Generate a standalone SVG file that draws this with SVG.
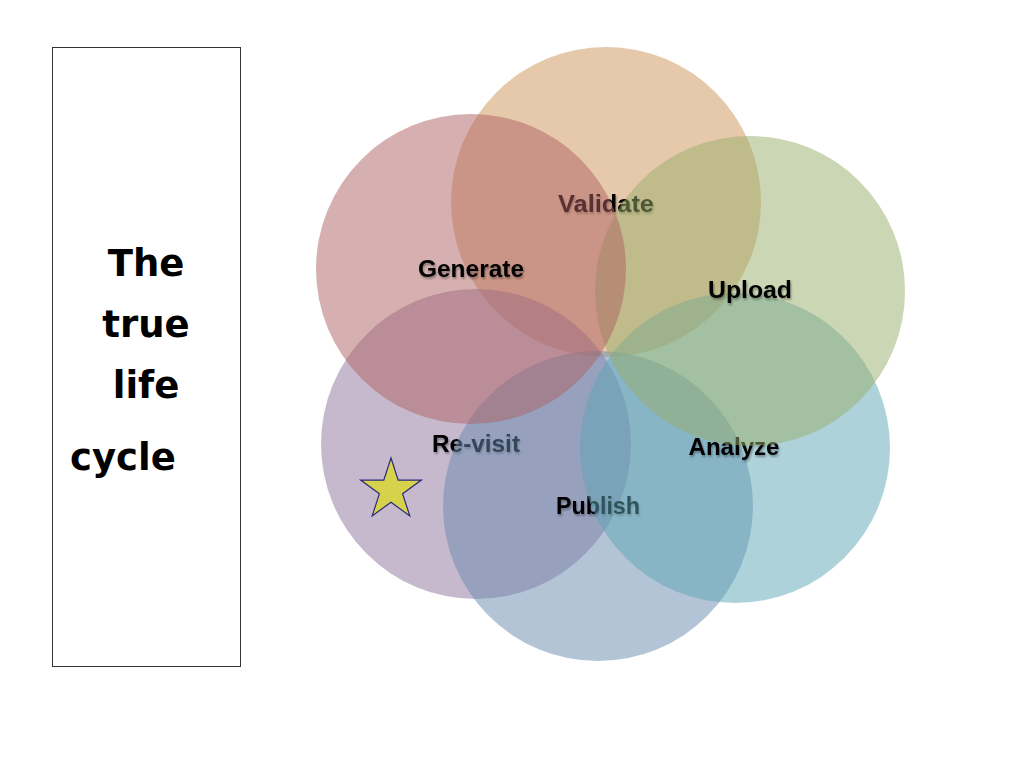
<svg xmlns="http://www.w3.org/2000/svg" width="1024" height="768" viewBox="0 0 1024 768">
<defs>
<style>
.c{stroke:none;opacity:0.5}
.lbl{font-family:"Liberation Sans",Arial,sans-serif;font-weight:bold;font-size:23.5px;fill:#000;text-anchor:middle}
.ttl{font-family:"DejaVu Sans",Verdana,sans-serif;font-weight:bold;font-size:37px;fill:#000}
</style>
<filter id="sh" x="-10%" y="-10%" width="130%" height="130%">
<feGaussianBlur in="SourceAlpha" stdDeviation="1"/>
<feOffset dx="1" dy="1.5" result="b"/>
<feComponentTransfer><feFuncA type="linear" slope="0.35"/></feComponentTransfer>
<feMerge><feMergeNode/><feMergeNode in="SourceGraphic"/></feMerge>
</filter>
</defs>
<rect width="1024" height="768" fill="#fff"/>
<g id="title">
<rect x="52.5" y="47.5" width="188" height="619" fill="#fff" stroke="#333" stroke-width="1"/>
<text class="ttl" x="146" y="276" text-anchor="middle">The</text>
<text class="ttl" x="146" y="337" text-anchor="middle">true</text>
<text class="ttl" x="146" y="398" text-anchor="middle">life</text>
<text class="ttl" x="70" y="470">cycle</text>
</g>
<g id="connectors"></g>
<g id="validate">
<circle class="c" cx="606" cy="202" r="155" fill="#CD9155"/>
<text class="lbl" x="606" y="212" textLength="96" lengthAdjust="spacingAndGlyphs" filter="url(#sh)">Validate</text>
</g>
<g id="revisit">
<circle class="c" cx="476" cy="444" r="155" fill="#8D739D"/>
<text class="lbl" x="476" y="452" textLength="88" lengthAdjust="spacingAndGlyphs" filter="url(#sh)">Re-visit</text>
</g>
<g id="publish">
<circle class="c" cx="598" cy="506" r="155" fill="#6789AD"/>
<text class="lbl" x="598" y="514" textLength="84" lengthAdjust="spacingAndGlyphs" filter="url(#sh)">Publish</text>
</g>
<g id="analyze">
<circle class="c" cx="735" cy="448" r="155" fill="#5DA5B5"/>
<text class="lbl" x="734" y="455" textLength="91" lengthAdjust="spacingAndGlyphs" filter="url(#sh)">Analyze</text>
</g>
<g id="upload">
<circle class="c" cx="750" cy="291" r="155" fill="#97AD69"/>
<text class="lbl" x="750" y="298" textLength="84" lengthAdjust="spacingAndGlyphs" filter="url(#sh)">Upload</text>
</g>
<g id="generate">
<circle class="c" cx="471" cy="269" r="155" fill="#AD6161"/>
<text class="lbl" x="471" y="277" textLength="106" lengthAdjust="spacingAndGlyphs" filter="url(#sh)">Generate</text>
</g>
<g id="star">
<polygon points="391,458 398.2,480.1 421.4,480.1 402.6,493.8 409.8,515.9 391,502.2 372.2,515.9 379.4,493.8 360.6,480.1 383.8,480.1" fill="#D6D24C" stroke="#2A2A7A" stroke-width="1.2" stroke-linejoin="miter"/>
</g>
</svg>
